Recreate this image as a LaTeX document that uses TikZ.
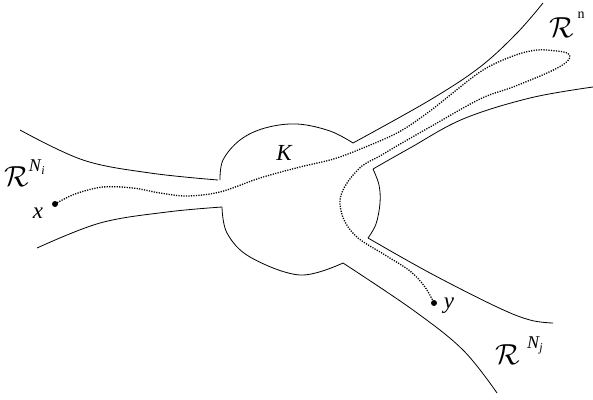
\documentclass[tikz,border=0pt]{standalone}
\usepackage{fontspec}
\setmainfont{Liberation Serif}
\newcommand{\bigcalR}{\scalebox{2.9}{$\mathcal{R}$}}
\begin{document}
\begin{tikzpicture}[x=1pt,y=-1pt,
  wall/.style={line width=0.8pt, line join=round},
  route/.style={line width=1.3pt, dash pattern=on 1.2pt off 1.3pt},
  pt/.style={circle, fill=black, inner sep=0pt, minimum size=6pt},
  lbl/.style={inner sep=0pt, font=\fontsize{23}{23}\selectfont\itshape},
  cal/.style={inner sep=0pt},
  supl/.style={inner sep=0pt, font=\fontsize{18}{18}\selectfont\itshape},
  subl/.style={inner sep=0pt, font=\fontsize{12}{12}\selectfont\itshape},
  supn/.style={inner sep=0pt, font=\fontsize{14}{14}\selectfont}]
\useasboundingbox (0,0) rectangle (593,399);

% left tube
\draw[wall] plot[smooth, tension=0.6] coordinates {(20,130) (83,160) (150,173) (218,180)};
\draw[wall] plot[smooth, tension=0.6] coordinates {(37,248) (100,223) (167,212) (222,207)};
% central body K
\draw[wall] plot[smooth, tension=0.6] coordinates {(220,180) (223,160) (240,140) (265,128) (297,124) (330,131) (353,143)};
\draw[wall] plot[smooth, tension=0.6] coordinates {(222,207) (227,233) (250,257) (300,275) (343,263)};
\draw[wall] plot[smooth, tension=0.6] coordinates {(373,169) (379,185) (380,203) (376,224) (368,238)};
% upper right tube
\draw[wall] plot[smooth, tension=0.6] coordinates {(353,143) (430,100) (480,67) (517,33) (543,3)};
\draw[wall] plot[smooth, tension=0.6] coordinates {(373,169) (410,148) (463,119) (530,98) (593,87)};
% lower right tube
\draw[wall] plot[smooth, tension=0.6] coordinates {(368,238) (430,273) (497,307) (530,320) (553,323)};
\draw[wall] plot[smooth, tension=0.6] coordinates {(343,263) (413,310) (463,350) (497,393)};

% points
\node[pt] (x) at (55,204) {};
\node[pt] (y) at (434,303) {};

% path from x to y
\draw[route] plot[smooth, tension=0.55] coordinates {(x.center) (75,194) (103,187) (133,188) (160,193) (187,196) (220,192) (260,178) (300,167) (330,160) (353,152) (397,133) (430,111) (480,72) (513,56) (537,50) (557,51) (567,53) (570,57) (564,64) (547,73) (513,87) (480,99) (430,127) (395,147) (380,156) (362,166) (347,183) (340,200) (344,220) (358,238) (385,255) (410,271) (425,287) (y.center)};

% labels
\node[lbl] (K) at (284,153) {K};
\node[lbl] (xl) at (38,213) {x};
\node[lbl] (yl) at (449,306) {y};

\node[cal] (R1) at (17,177) {\bigcalR};
\node[supl] (N1) at (35,166) {N};
\node[subl] (i1) at (43,171) {i};

\node[cal] (R2) at (562,28) {\bigcalR};
\node[supn] (n2) at (581,15) {n};

\node[cal] (R3) at (508,355) {\bigcalR};
\node[supl] (N3) at (533,343) {N};
\node[subl] (j3) at (541,349) {j};
\end{tikzpicture}
\end{document}
